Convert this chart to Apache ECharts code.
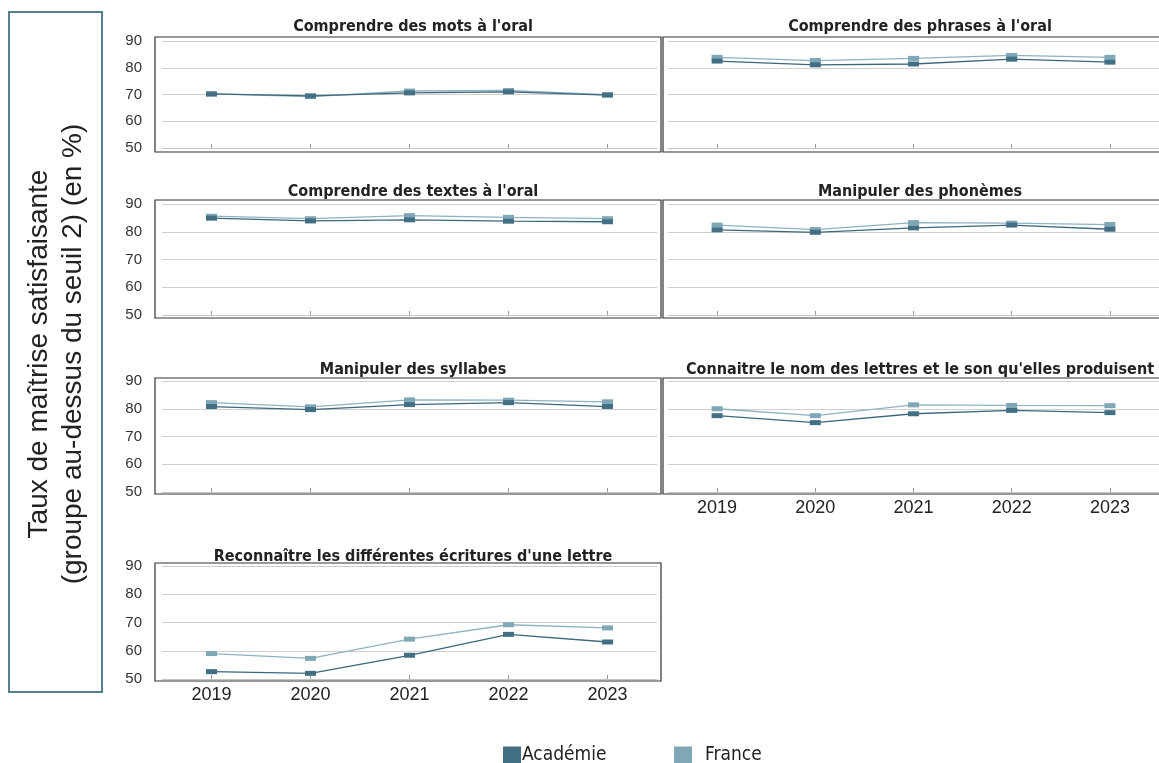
<!DOCTYPE html>
<html>
<head>
<meta charset="utf-8">
<script src="https://cdn.jsdelivr.net/npm/echarts@6/dist/echarts.min.js"></script>
<style>
  html, body { margin: 0; padding: 0; background: #fff; }
  #chart { width: 1159px; height: 763px; }
</style>
</head>
<body>
<div id="chart"></div>
<script>
// données (taux de maîtrise, en %)
const years = ['2019', '2020', '2021', '2022', '2023']
const yTicks = [50, 60, 70, 80, 90]

const motsAcad = [70.2, 69.5, 70.6, 71.0, 69.8]
const motsFrance = [70.2, 69.2, 71.3, 71.5, 69.9]
const phrasesAcad = [82.5, 81.1, 81.4, 83.2, 82.1]
const phrasesFrance = [83.9, 82.7, 83.5, 84.6, 83.9]
const textesAcad = [84.9, 83.9, 84.3, 83.8, 83.6]
const textesFrance = [85.6, 84.7, 85.8, 85.2, 84.7]
const phonemesAcad = [80.7, 79.8, 81.4, 82.4, 80.9]
const phonemesFrance = [82.4, 80.8, 83.3, 83.1, 82.6]
const syllabesAcad = [80.8, 79.7, 81.5, 82.2, 80.8]
const syllabesFrance = [82.2, 80.7, 83.2, 83.1, 82.5]
const lettresAcad = [77.5, 75.0, 78.2, 79.4, 78.6]
const lettresFrance = [80.0, 77.5, 81.4, 81.2, 81.1]
const ecrituresAcad = [52.6, 52.0, 58.4, 65.8, 63.1]
const ecrituresFrance = [59.0, 57.3, 64.1, 69.2, 68.1]

const panels = [
  { title: "Comprendre des mots à l'oral", acad: motsAcad, france: motsFrance },
  { title: "Comprendre des phrases à l'oral", acad: phrasesAcad, france: phrasesFrance },
  { title: "Comprendre des textes à l'oral", acad: textesAcad, france: textesFrance },
  { title: 'Manipuler des phonèmes', acad: phonemesAcad, france: phonemesFrance },
  { title: 'Manipuler des syllabes', acad: syllabesAcad, france: syllabesFrance },
  { title: "Connaitre le nom des lettres et le son qu'elles produisent", acad: lettresAcad, france: lettresFrance },
  { title: "Reconnaître les différentes écritures d'une lettre", acad: ecrituresAcad, france: ecrituresFrance }
]

// mise en page : colonne gauche / droite, lignes
const cols = [
  { gridLeft: 162, gridWidth: 495, boxX: 155, boxW: 506, yLabels: true },
  { gridLeft: 668, gridWidth: 502, boxX: 663, boxW: 510, yLabels: false }
]
const rows = [
  { top: 41, height: 107, boxTop: 37, boxBottom: 152, titleY: 22 },
  { top: 204, height: 111, boxTop: 200, boxBottom: 318, titleY: 187 },
  { top: 381, height: 111, boxTop: 378, boxBottom: 494, titleY: 365 },
  { top: 566, height: 113, boxTop: 563, boxBottom: 681, titleY: 552 }
]

const colAcad = '#436f84'
const colFrance = '#7fa7b5'
const narrow = "'Liberation Sans Narrow', 'DejaVu Sans Condensed', 'Roboto Condensed', sans-serif"
const plain = "'Liberation Sans', Arial, sans-serif"

const chart = echarts.init(document.getElementById('chart'))

let grids = []
let xAxes = []
let yAxes = []
let series = []
let titleArr = []
let graphics = []

panels.forEach((p, i) => {
  const col = cols[i % 2]
  const row = rows[Math.floor(i / 2)]
  const showX = i === 5 || i === 6

  grids.push({ left: col.gridLeft, top: row.top, width: col.gridWidth, height: row.height })

  xAxes.push({
    type: 'category',
    gridIndex: i,
    data: years,
    boundaryGap: true,
    axisLine: { lineStyle: { color: '#c4c4c4', width: 1 } },
    axisTick: { show: true, alignWithLabel: true, inside: true, length: 4, lineStyle: { color: '#999' } },
    axisLabel: { show: showX, fontFamily: plain, fontSize: 18, color: '#222', margin: 7 }
  })

  yAxes.push({
    type: 'value',
    gridIndex: i,
    min: yTicks[0],
    max: yTicks[yTicks.length - 1],
    interval: 10,
    axisLine: { show: false },
    axisTick: { show: false },
    axisLabel: { show: col.yLabels, fontFamily: plain, fontSize: 15, color: '#333', margin: 20 },
    splitLine: { lineStyle: { color: '#cfcfcf', width: 1 } }
  })

  series.push({
    name: 'Académie',
    type: 'line',
    xAxisIndex: i,
    yAxisIndex: i,
    data: p.acad,
    symbol: 'rect',
    symbolSize: [11, 5],
    lineStyle: { color: '#3d687c', width: 1.3 },
    itemStyle: { color: colAcad },
    z: 3
  })
  series.push({
    name: 'France',
    type: 'line',
    xAxisIndex: i,
    yAxisIndex: i,
    data: p.france,
    symbol: 'rect',
    symbolSize: [11, 5],
    lineStyle: { color: '#8fb2bf', width: 1.3 },
    itemStyle: { color: colFrance },
    z: 2
  })

  titleArr.push({
    text: p.title,
    left: col.boxX + col.boxW / 2 - (i % 2 ? 3 : 0),
    top: row.titleY,
    textAlign: 'center',
    textVerticalAlign: 'middle',
    textStyle: { fontFamily: narrow, fontWeight: 'bold', fontSize: 16, color: '#222' }
  })

  // cadre du panneau
  graphics.push({
    type: 'rect',
    shape: { x: col.boxX, y: row.boxTop, width: col.boxW, height: row.boxBottom - row.boxTop },
    style: { fill: null, stroke: '#333', lineWidth: 1.2 },
    z: 10
  })
})

// cadre et titre de l'axe vertical
graphics.push({
  type: 'rect',
  shape: { x: 9, y: 12, width: 93, height: 680 },
  style: { fill: null, stroke: '#56808f', lineWidth: 2 }
})
graphics.push({
  type: 'text',
  x: 56,
  y: 354,
  rotation: Math.PI / 2,
  style: {
    text: 'Taux de maîtrise satisfaisante\n(groupe au-dessus du seuil 2) (en %)',
    font: '28px ' + plain,
    fill: '#222',
    align: 'center',
    verticalAlign: 'middle',
    lineHeight: 34
  }
})

const legendText = { fontFamily: narrow, fontSize: 19, color: '#222' }

let option = {
  animation: false,
  title: titleArr,
  grid: grids,
  xAxis: xAxes,
  yAxis: yAxes,
  legend: [
    {
      data: ['Académie'],
      left: 498,
      top: 741,
      icon: 'rect',
      itemWidth: 18,
      itemHeight: 18,
      textStyle: Object.assign({ padding: [0, 0, 0, -4] }, legendText)
    },
    {
      data: ['France'],
      left: 669,
      top: 741,
      icon: 'rect',
      itemWidth: 18,
      itemHeight: 18,
      textStyle: Object.assign({ padding: [0, 0, 0, 8] }, legendText)
    }
  ],
  graphic: graphics,
  series: series
}
option && chart.setOption(option)
</script>
</body>
</html>
